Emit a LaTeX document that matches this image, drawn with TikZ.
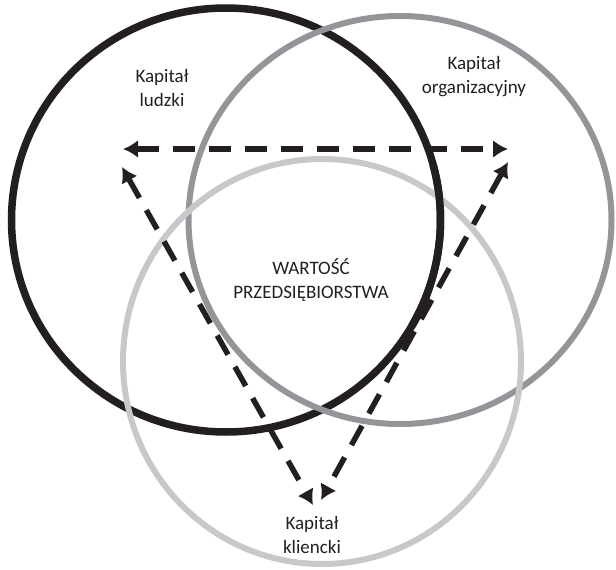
\documentclass[tikz,border=0pt]{standalone}
\usepackage{fontspec}
\setmainfont{Carlito}
\usetikzlibrary{arrows.meta}
\definecolor{ciemny}{HTML}{231F20}
\definecolor{szary}{HTML}{939598}
\definecolor{jasny}{HTML}{C7C8CA}
\tikzset{
	kapital/.style={align=center,text=ciemny,font=\fontsize{19}{24}\selectfont},
	relacja/.style={{Latex[length=15pt,width=18pt]}-{Latex[length=15pt,width=18pt]},line width=5.5pt,ciemny,dash pattern=on 22pt off 14pt}
}
\begin{document}
\begin{tikzpicture}[x=1pt,y=-1pt]
		\useasboundingbox (0,0) rectangle (616,570);
		% kola
		\draw[ciemny,line width=7.5pt] (226,220) ellipse[x radius=214.5,y radius=212];
		\draw[szary,line width=6pt] (400,220) ellipse[x radius=211.5,y radius=204];
		\draw[jasny,line width=6pt] (322,361.5) ellipse[x radius=199,y radius=202.5];
		\draw[ciemny,line width=7.5pt] (226,220) ++(-15:214.5 and 212) arc[start angle=-15,end angle=30,x radius=214.5,y radius=212];
		
		\node[kapital] (ludz) at (162,88) {Kapitał\\ludzki};
		\node[kapital] (orga) at (474,77) {Kapitał\\organizacyjny};
		\node[kapital] (wart) at (311,280) {WARTOŚĆ\\PRZEDSIĘBIORSTWA};
		\node[kapital] (klie) at (312,535) {Kapitał\\kliencki};
		
		\coordinate (lg) at (123,149);
		\coordinate (pg) at (508,149);
		\coordinate (ll) at (122,167);
		\coordinate (ld) at (313,505);
		\coordinate (pp) at (508,162);
		\coordinate (pd) at (321,500);
		\draw[relacja] (lg) -- (pg);
		\draw[relacja] (ll) -- (ld);
		\draw[relacja] (pp) -- (pd);
		\end{tikzpicture}
\end{document}
